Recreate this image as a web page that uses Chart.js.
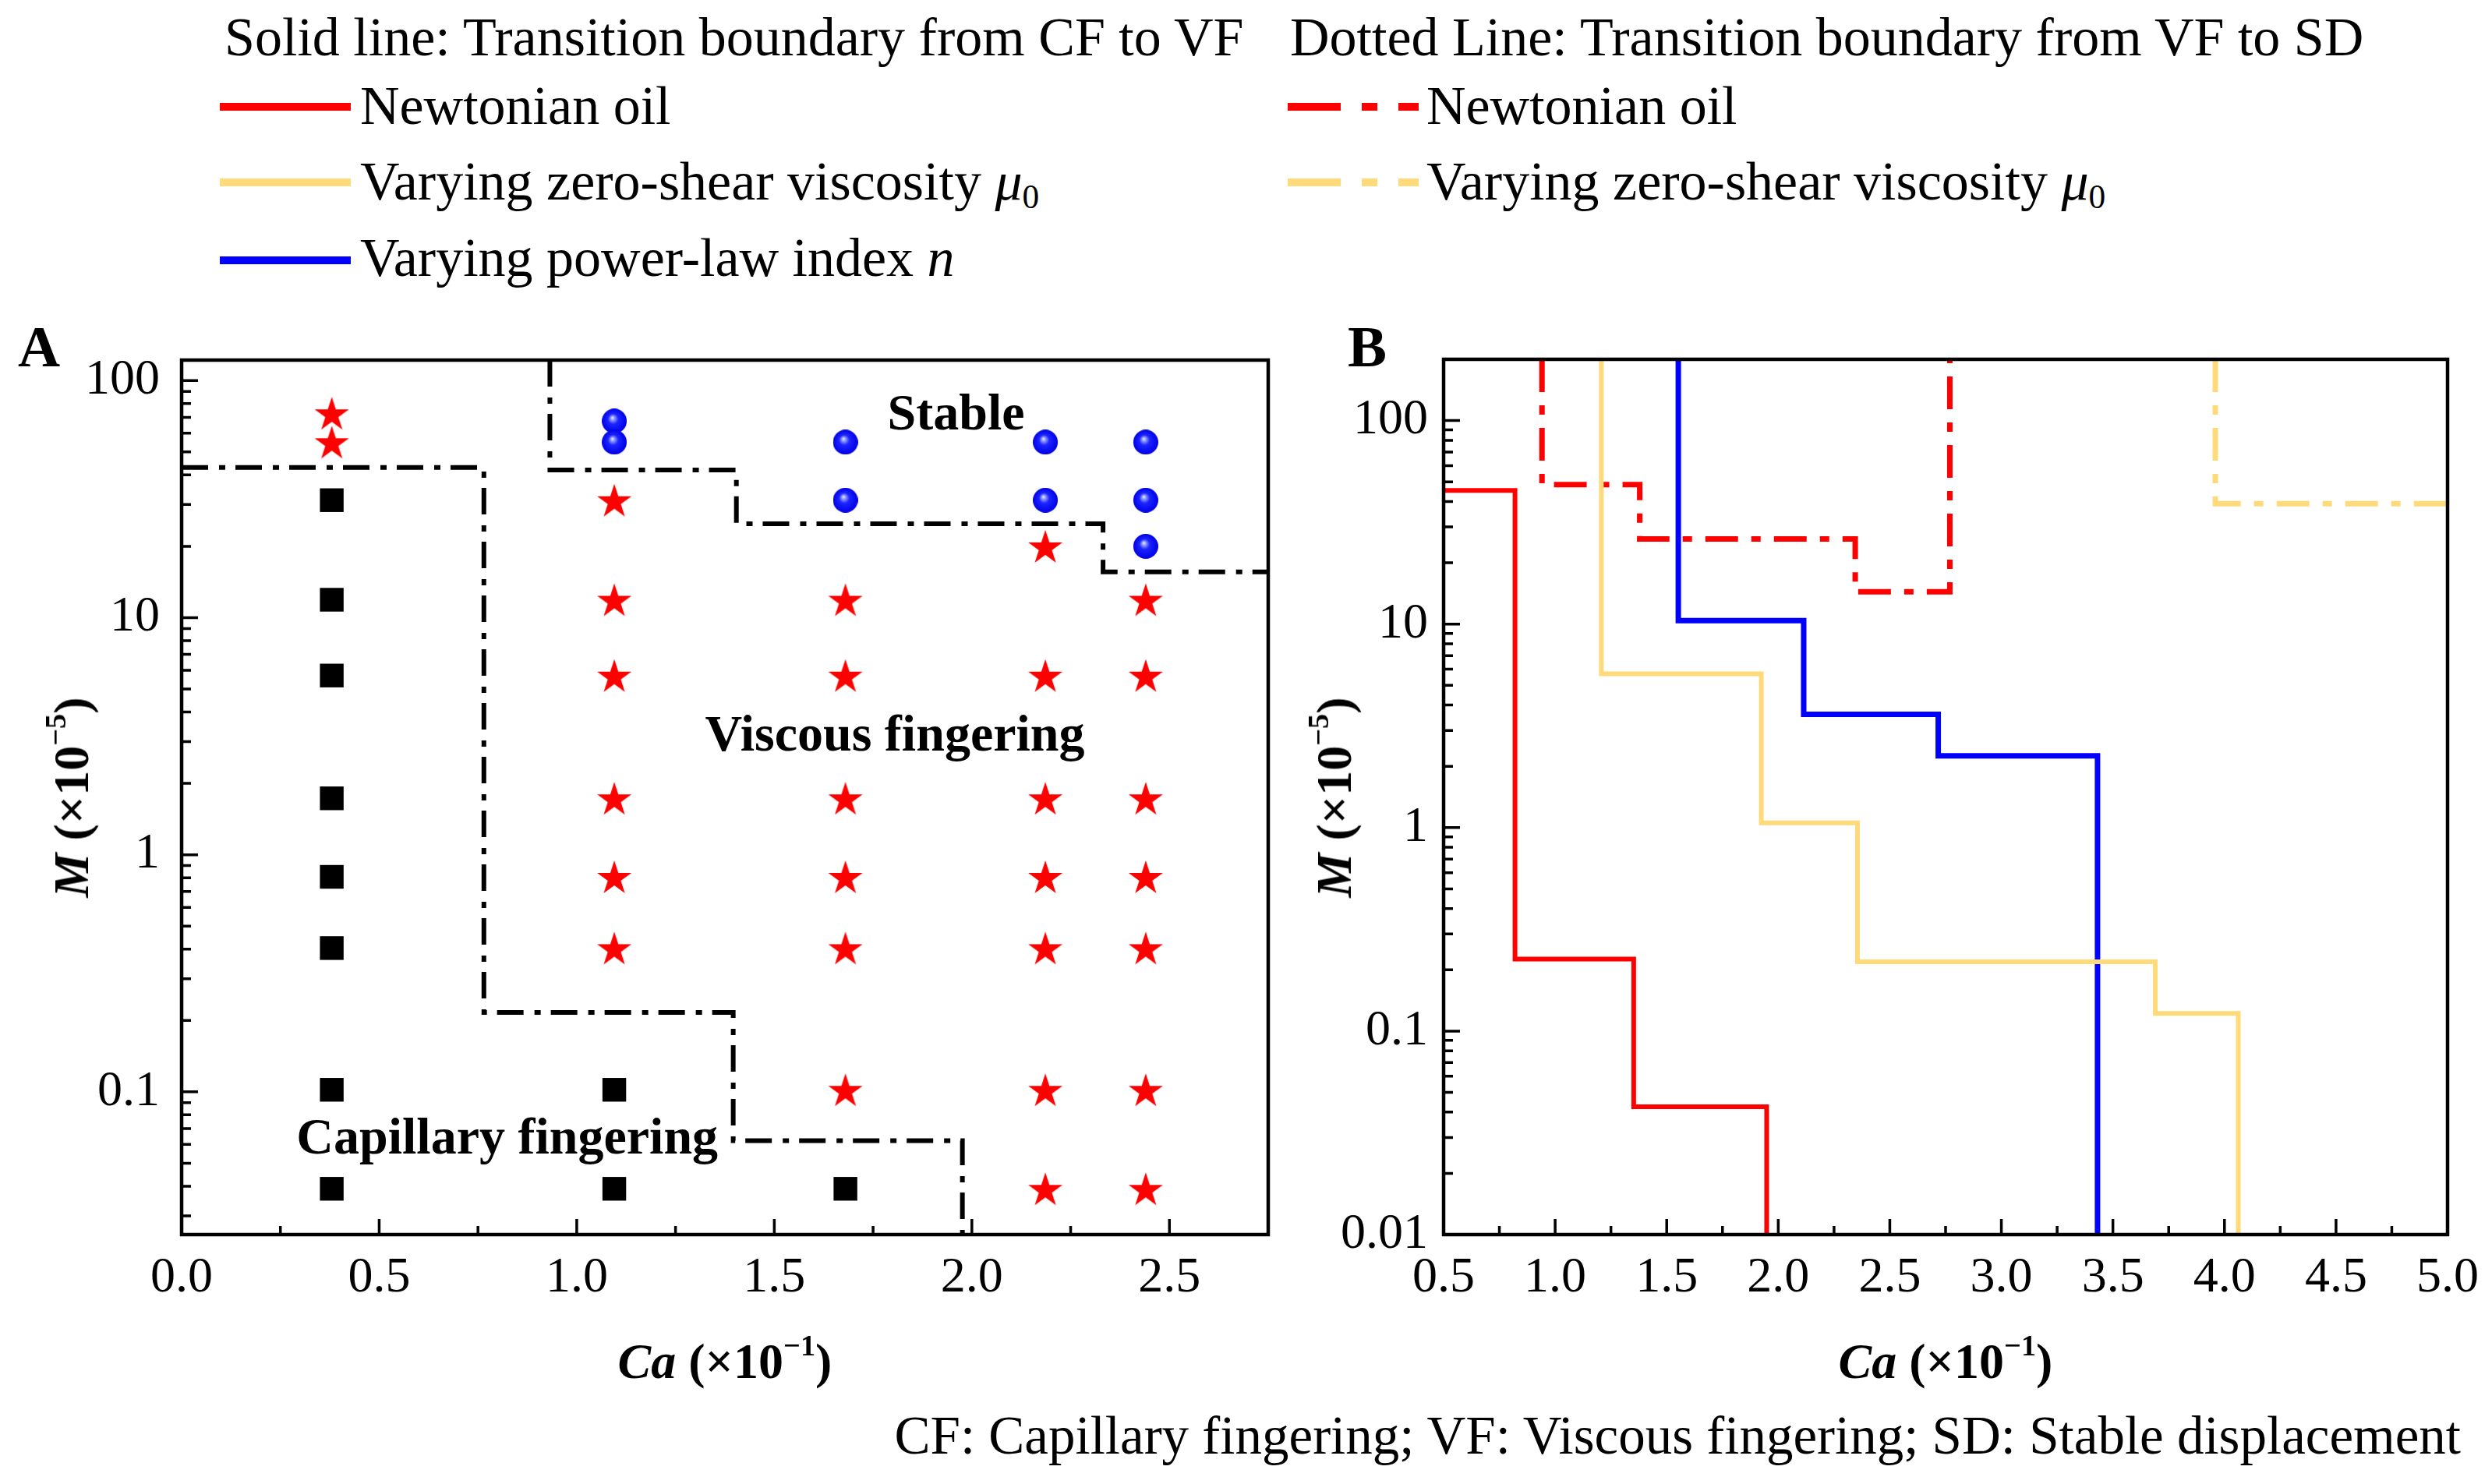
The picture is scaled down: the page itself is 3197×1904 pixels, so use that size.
<!DOCTYPE html>
<html lang="en">
<head>
<meta charset="UTF-8" />
<title>Flow regime map</title>
<script src="https://cdn.jsdelivr.net/npm/chart.js@4.4.1/dist/chart.umd.min.js"></script>
<style>
  html,body{margin:0;padding:0;background:#fff}
  body{width:3197px;height:1904px;position:relative;overflow:hidden;font-family:"Liberation Serif","Times New Roman",serif;color:#000}
  .t{position:absolute;white-space:nowrap;line-height:1}
  .lg{font-size:70px}
  .s{position:absolute;overflow:visible}
  .panel{position:absolute;font-weight:bold;font-size:75px;line-height:1}
  .ax{position:absolute;white-space:nowrap;font-weight:bold;font-size:64px;line-height:1}
  .ax sup{font-size:0.6em;vertical-align:0.75em;line-height:0}
  .lg sub{font-size:0.62em;vertical-align:-0.25em;line-height:0}
  .box{position:absolute}
</style>
</head>
<body>
  <div class="t lg" style="left:288px;top:13px">Solid line: Transition boundary from CF to VF</div>
  <div class="t lg" style="left:1655px;top:13px">Dotted Line: Transition boundary from VF to SD</div>

  <svg class="s" style="left:282px;top:127px" width="168" height="20"><line x1="0" y1="10" x2="168" y2="10" stroke="#ff0000" stroke-width="10"/></svg>
  <div class="t lg" style="left:462px;top:101px">Newtonian oil</div>
  <svg class="s" style="left:282px;top:224px" width="168" height="20"><line x1="0" y1="10" x2="168" y2="10" stroke="#ffda7a" stroke-width="10"/></svg>
  <div class="t lg" style="left:462px;top:198px">Varying zero-shear viscosity <i>μ</i><sub>0</sub></div>
  <svg class="s" style="left:282px;top:324px" width="168" height="20"><line x1="0" y1="10" x2="168" y2="10" stroke="#0000ff" stroke-width="10"/></svg>
  <div class="t lg" style="left:462px;top:296px">Varying power-law index <i>n</i></div>

  <svg class="s" style="left:1652px;top:127px" width="168" height="20"><line x1="0" y1="10" x2="168" y2="10" stroke="#ff0000" stroke-width="10" stroke-dasharray="68 27 20 27"/></svg>
  <div class="t lg" style="left:1830px;top:101px">Newtonian oil</div>
  <svg class="s" style="left:1652px;top:224px" width="168" height="20"><line x1="0" y1="10" x2="168" y2="10" stroke="#ffda7a" stroke-width="10" stroke-dasharray="68 27 20 27"/></svg>
  <div class="t lg" style="left:1830px;top:198px">Varying zero-shear viscosity <i>μ</i><sub>0</sub></div>

  <div class="panel" style="left:23px;top:407px">A</div>
  <div class="panel" style="left:1729px;top:407px">B</div>

  <div class="box" style="left:0;top:440px;width:1700px;height:1300px"><canvas id="chartA"></canvas></div>
  <div class="box" style="left:1650px;top:440px;width:1547px;height:1300px"><canvas id="chartB"></canvas></div>

  <div class="ax" style="left:92px;top:1023px;transform:translate(-50%,-50%) rotate(-90deg)"><i>M</i> (×10<sup>−5</sup>)</div>
  <div class="ax" style="left:1712px;top:1023px;transform:translate(-50%,-50%) rotate(-90deg)"><i>M</i> (×10<sup>−5</sup>)</div>
  <div class="ax" style="left:930px;top:1747px;transform:translate(-50%,-50%)"><i>Ca</i> (×10<sup>−1</sup>)</div>
  <div class="ax" style="left:2496px;top:1747px;transform:translate(-50%,-50%)"><i>Ca</i> (×10<sup>−1</sup>)</div>

  <div class="t" style="right:40px;top:1808px;font-size:69px">CF: Capillary fingering; VF: Viscous fingering; SD: Stable displacement</div>

<script>
// ---- panel A: experiment markers (Ca x10^-1, M x10^-5) ----
const cfCa = [0.38, 0.38, 0.38, 0.38, 0.38, 0.38, 0.38, 0.38, 1.095, 1.095, 1.68];
const cfM  = [31.3, 11.9, 5.7, 1.73, 0.807, 0.404, 0.102, 0.039, 0.102, 0.039, 0.039];

const vfCa = [0.38, 0.38,
  1.095, 1.095, 1.095, 1.095, 1.095, 1.095,
  1.68, 1.68, 1.68, 1.68, 1.68, 1.68,
  2.186, 2.186, 2.186, 2.186, 2.186, 2.186, 2.186,
  2.44, 2.44, 2.44, 2.44, 2.44, 2.44, 2.44];
const vfM  = [72.8, 55,
  31.3, 11.9, 5.7, 1.73, 0.807, 0.404,
  11.9, 5.7, 1.73, 0.807, 0.404, 0.102,
  20, 5.7, 1.73, 0.807, 0.404, 0.102, 0.039,
  11.9, 5.7, 1.73, 0.807, 0.404, 0.102, 0.039];

const sdCa = [1.095, 1.095, 1.68, 1.68, 2.186, 2.186, 2.44, 2.44, 2.44];
const sdM  = [67.5, 55, 55, 31.3, 55, 31.3, 55, 31.3, 20];

// panel A boundaries (stepped, horizontal then vertical)
const bndCfVfCa = [0, 0.765, 1.396, 1.976];
const bndCfVfM  = [43, 0.216, 0.0622, 0.025];
const bndVfSdCa = [0.932, 0.932, 1.404, 2.332, 2.75];
const bndVfSdM  = [122, 42, 24.9, 15.6, 15.6];

const regionNames = ['Stable', 'Viscous fingering', 'Capillary fingering'];
const regionCa = [1.96, 1.805, 0.824];
const regionM  = [70.8, 3.14, 0.0627];

// ---- panel B: transition boundaries ----
const newtonCfCa = [0.5, 0.82, 1.352, 1.948];
const newtonCfM  = [45.4, 0.226, 0.0425, 0.01];
const muCfCa = [1.207, 1.207, 1.924, 2.355, 3.69, 4.062];
const muCfM  = [200, 5.7, 1.055, 0.219, 0.122, 0.01];
const nCfCa = [1.552, 1.552, 2.114, 2.717, 3.431];
const nCfM  = [200, 10.4, 3.6, 2.25, 0.01];
const newtonSdCa = [0.941, 0.941, 1.379, 2.345, 2.769];
const newtonSdM  = [200, 48.5, 26.2, 14.4, 200];
const muSdCa = [3.959, 3.959, 5.0];
const muSdM  = [200, 39, 39];

// ---- ticks ----
const xMajorA = [0, 0.5, 1.0, 1.5, 2.0, 2.5];
const xMinorA = [0.25, 0.75, 1.25, 1.75, 2.25];
const yMajorA = [0.1, 1, 10, 100];
const xMajorB = [0.5, 1.0, 1.5, 2.0, 2.5, 3.0, 3.5, 4.0, 4.5, 5.0];
const xMinorB = [0.75, 1.25, 1.75, 2.25, 2.75, 3.25, 3.75, 4.25, 4.75];
const yMajorB = [0.01, 0.1, 1, 10, 100];

const RED = '#ff0000', BLUE = '#0000ff', YELLOW = '#ffda7a';
const FONT = '"Liberation Serif", "Times New Roman", serif';

function minorLog(min, max) {
  const out = [];
  for (let e = Math.floor(Math.log10(min)); e <= Math.ceil(Math.log10(max)); e++) {
    for (let k = 2; k <= 9; k++) {
      const v = k * Math.pow(10, e);
      if (v > min && v < max) out.push(v);
    }
  }
  return out;
}

function pts(xs, ys) { return xs.map((x, i) => ({ x, y: ys[i] })); }

function starImage(w, color) {
  const R = w / 1.902;
  const c = document.createElement('canvas');
  c.width = Math.ceil(w) + 2; c.height = Math.ceil(w) + 2;
  const g = c.getContext('2d');
  const cx = c.width / 2, cy = c.height / 2 + 0.0955 * R;
  g.fillStyle = color;
  g.beginPath();
  for (let i = 0; i < 10; i++) {
    const a = -Math.PI / 2 + i * Math.PI / 5;
    const r = i % 2 ? R * 0.382 : R;
    g.lineTo(cx + r * Math.cos(a), cy + r * Math.sin(a));
  }
  g.closePath();
  g.fill();
  return c;
}

function ballImage(d) {
  const c = document.createElement('canvas');
  c.width = d; c.height = d;
  const g = c.getContext('2d');
  const r = d / 2;
  const grad = g.createRadialGradient(r - d * 0.08, r - d * 0.14, 0, r, r, r);
  grad.addColorStop(0, '#f2f4ff');
  grad.addColorStop(0.14, '#9aa6ff');
  grad.addColorStop(0.42, '#1c24ff');
  grad.addColorStop(1, '#0000e6');
  g.fillStyle = grad;
  g.beginPath();
  g.arc(r, r, r, 0, Math.PI * 2);
  g.fill();
  return c;
}

// frame, inward tick marks and region names drawn through the chart scales
const frameTicks = {
  id: 'frameTicks',
  afterDatasetsDraw(chart, args, o) {
    const { ctx, chartArea: a } = chart;
    const x = chart.scales.x, y = chart.scales.y;
    ctx.save();
    ctx.strokeStyle = '#000';
    ctx.lineWidth = 3.5;
    ctx.beginPath();
    const tickX = (v, len) => { const p = x.getPixelForValue(v); ctx.moveTo(p, a.bottom); ctx.lineTo(p, a.bottom - len); };
    const tickY = (v, len) => { const p = y.getPixelForValue(v); ctx.moveTo(a.left, p); ctx.lineTo(a.left + len, p); };
    o.xMajor.forEach(v => tickX(v, 20));
    o.xMinor.forEach(v => tickX(v, 11));
    o.yMajor.forEach(v => tickY(v, 21));
    minorLog(y.min, y.max).forEach(v => tickY(v, 12));
    ctx.stroke();
    ctx.lineWidth = 4.5;
    ctx.strokeRect(a.left, a.top, a.width, a.height);
    if (o.labels) {
      ctx.fillStyle = '#000';
      ctx.font = 'bold 66px ' + FONT;
      ctx.textAlign = 'center';
      ctx.textBaseline = 'middle';
      o.labels.names.forEach((t, i) => {
        ctx.fillText(t, x.getPixelForValue(o.labels.xs[i]), y.getPixelForValue(o.labels.ys[i]));
      });
    }
    ctx.restore();
  }
};

function axisScales(xMin, xMax, xMajor, yMin, yMax, yMajor, yWidth, yPad) {
  return {
    x: {
      type: 'linear', position: 'bottom', min: xMin, max: xMax,
      grid: { display: false, drawTicks: false }, border: { display: false },
      afterBuildTicks: s => { s.ticks = xMajor.map(v => ({ value: v })); },
      afterFit: s => { s.height = 156; s.paddingLeft = 0; s.paddingRight = 0; },
      ticks: { color: '#000', padding: 18, maxRotation: 0, autoSkip: false,
        font: { family: FONT, size: 64 }, callback: v => Number(v).toFixed(1) }
    },
    y: {
      type: 'logarithmic', position: 'left', min: yMin, max: yMax,
      grid: { display: false, drawTicks: false }, border: { display: false },
      afterBuildTicks: s => { s.ticks = yMajor.map(v => ({ value: v })); },
      afterFit: s => { s.width = yWidth; s.paddingTop = 0; s.paddingBottom = 0; },
      ticks: { color: '#000', padding: yPad, autoSkip: false,
        font: { family: FONT, size: 64 }, callback: v => String(v) }
    }
  };
}

function lineSet(data, color, width, dash) {
  return { type: 'line', data, borderColor: color, borderWidth: width, borderDash: dash || [],
    showLine: true, stepped: 'before', pointRadius: 0, fill: false, order: 2 };
}

const common = {
  responsive: true, maintainAspectRatio: false, animation: false,
  plugins: { legend: { display: false }, tooltip: { enabled: false } }
};

const star = starImage(44, RED);
const ball = ballImage(32);

new Chart(document.getElementById('chartA'), {
  type: 'scatter',
  data: {
    datasets: [
      lineSet(pts(bndCfVfCa, bndCfVfM), '#000', 6, [34, 14, 8, 13]),
      lineSet(pts(bndVfSdCa, bndVfSdM), '#000', 6, [34, 14, 8, 13]),
      { label: 'CF', data: pts(cfCa, cfM), pointStyle: 'rect', pointRadius: 21.5,
        backgroundColor: '#000', borderColor: '#000', borderWidth: 0, order: 1 },
      { label: 'VF', data: pts(vfCa, vfM), pointStyle: star, order: 1 },
      { label: 'SD', data: pts(sdCa, sdM), pointStyle: ball, order: 1 }
    ]
  },
  options: {
    ...common,
    layout: { padding: { top: 22, right: 73, left: 0, bottom: 0 } },
    scales: axisScales(0, 2.75, xMajorA, 0.025, 122, yMajorA, 233, 28),
    plugins: { ...common.plugins,
      frameTicks: { xMajor: xMajorA, xMinor: xMinorA, yMajor: yMajorA,
        labels: { names: regionNames, xs: regionCa, ys: regionM } } }
  },
  plugins: [frameTicks]
});

new Chart(document.getElementById('chartB'), {
  type: 'scatter',
  data: {
    datasets: [
      lineSet(pts(newtonCfCa, newtonCfM), RED, 6),
      lineSet(pts(muCfCa, muCfM), YELLOW, 6),
      lineSet(pts(nCfCa, nCfM), BLUE, 7),
      lineSet(pts(newtonSdCa, newtonSdM), RED, 7, [42, 17, 12, 17]),
      lineSet(pts(muSdCa, muSdM), YELLOW, 7, [42, 17, 12, 17])
    ]
  },
  options: {
    ...common,
    layout: { padding: { top: 21, right: 57, left: 0, bottom: 0 } },
    scales: axisScales(0.5, 5.0, xMajorB, 0.01, 200, yMajorB, 202, 20),
    plugins: { ...common.plugins,
      frameTicks: { xMajor: xMajorB, xMinor: xMinorB, yMajor: yMajorB } }
  },
  plugins: [frameTicks]
});
</script>
</body>
</html>
